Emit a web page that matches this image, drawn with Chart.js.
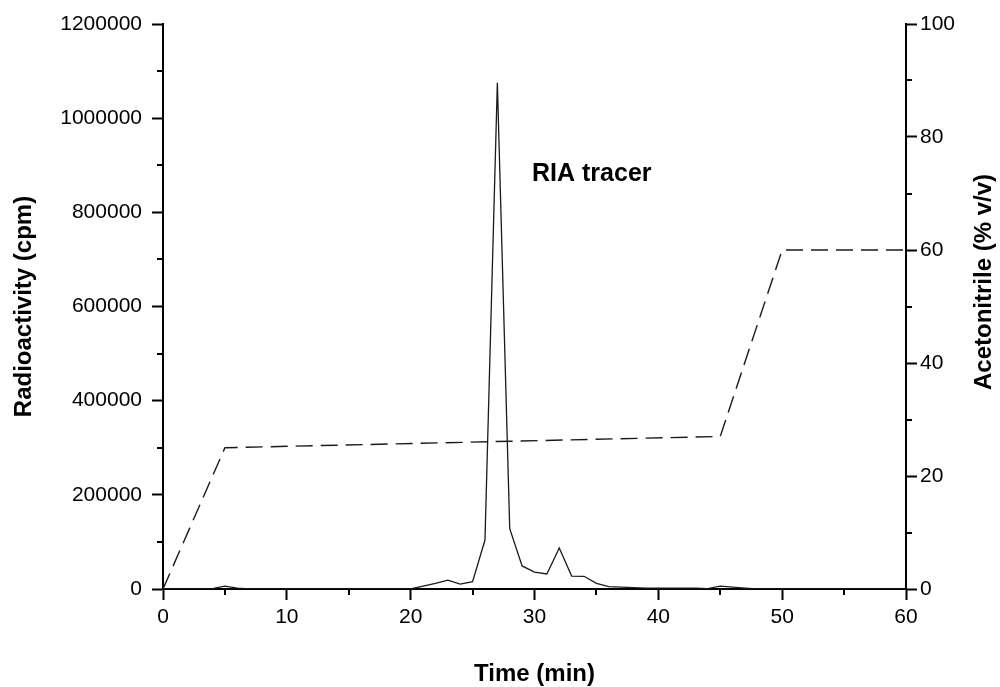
<!DOCTYPE html>
<html>
<head>
<meta charset="utf-8">
<script src="https://cdn.jsdelivr.net/npm/chart.js@4.4.1/dist/chart.umd.min.js"></script>
<style>
  html, body { margin: 0; padding: 0; background: #fff; }
  canvas { display: block; }
</style>
</head>
<body>
<canvas id="chart" width="1000" height="687"></canvas>
<script>
// radioactivity trace, one reading per minute
const radTime = [
  0, 1, 2, 3, 4, 5, 6, 7, 8, 9,
  10, 11, 12, 13, 14, 15, 16, 17, 18, 19,
  20, 21, 22, 23, 24, 25, 26, 27, 28, 29,
  30, 31, 32, 33, 34, 35, 36, 37, 38, 39,
  40, 41, 42, 43, 44, 45, 46, 47, 48, 49,
  50, 51, 52, 53, 54, 55, 56, 57, 58, 59, 60
];
const radCpm = [
  0, 0, 0, 0, 1000, 6000, 2000, 0, 0, 0,
  0, 0, 0, 0, 0, 0, 0, 0, 0, 0,
  0, 6000, 12000, 19000, 10500, 15500, 104000, 1075000, 128000, 49000,
  36000, 32000, 87000, 27500, 27000, 12000, 5000, 4000, 3000, 2000,
  2000, 2000, 2000, 2000, 1000, 6000, 4000, 2000, 0, 0,
  0, 0, 0, 0, 0, 0, 0, 0, 0, 0, 0
];

// acetonitrile gradient
const acnTime = [0, 5, 45, 50, 60];
const acnPercent = [0, 25, 27, 60, 60];

// axis ticks
const xTicks = [0, 10, 20, 30, 40, 50, 60];
const xMinorTicks = [5, 15, 25, 35, 45, 55];
const leftTicks = [0, 200000, 400000, 600000, 800000, 1000000, 1200000];
const leftMinorTicks = [100000, 300000, 500000, 700000, 900000, 1100000];
const rightTicks = [0, 20, 40, 60, 80, 100];
const rightMinorTicks = [10, 30, 50, 70, 90];

const peakLabel = "RIA tracer";
const FONT = "Arial, 'Liberation Sans', sans-serif";

const toPoints = (xs, ys) => xs.map((x, i) => ({ x: x, y: ys[i] }));

const extras = {
  id: "extras",
  afterDraw(chart) {
    const { ctx, chartArea, scales } = chart;
    ctx.save();
    ctx.strokeStyle = "#000";
    ctx.lineWidth = 2;
    ctx.beginPath();
    xMinorTicks.forEach((v) => {
      const px = Math.round(scales.x.getPixelForValue(v));
      ctx.moveTo(px, chartArea.bottom);
      ctx.lineTo(px, chartArea.bottom + 6);
    });
    leftMinorTicks.forEach((v) => {
      const py = Math.round(scales.y.getPixelForValue(v));
      ctx.moveTo(chartArea.left, py);
      ctx.lineTo(chartArea.left - 6, py);
    });
    rightMinorTicks.forEach((v) => {
      const py = Math.round(scales.y2.getPixelForValue(v));
      ctx.moveTo(chartArea.right, py);
      ctx.lineTo(chartArea.right + 6, py);
    });
    ctx.stroke();

    ctx.fillStyle = "#000";
    ctx.font = "bold 25px " + FONT;
    ctx.textAlign = "left";
    ctx.textBaseline = "middle";
    ctx.fillText(peakLabel, scales.x.getPixelForValue(29.8), scales.y.getPixelForValue(882000));

    // right axis title reads bottom to top
    ctx.font = "bold 24px " + FONT;
    ctx.textAlign = "center";
    ctx.translate(984, 282);
    ctx.rotate(-Math.PI / 2);
    ctx.fillText("Acetonitrile (% v/v)", 0, 0);
    ctx.restore();
  },
};

const axisGrid = {
  drawOnChartArea: false,
  drawTicks: true,
  tickLength: 11,
  tickWidth: 2,
  tickColor: "#000",
  color: "#000",
};
const tickFont = { family: FONT, size: 21 };

new Chart(document.getElementById("chart"), {
  type: "line",
  data: {
    datasets: [
      {
        label: "Radioactivity",
        data: toPoints(radTime, radCpm),
        yAxisID: "y",
        borderColor: "#1a1a1a",
        borderWidth: 1.3,
        pointRadius: 0,
        tension: 0,
      },
      {
        label: "Acetonitrile",
        data: toPoints(acnTime, acnPercent),
        yAxisID: "y2",
        borderColor: "#1a1a1a",
        borderWidth: 1.4,
        borderDash: [17, 8],
        pointRadius: 0,
        tension: 0,
      },
    ],
  },
  options: {
    responsive: false,
    animation: false,
    devicePixelRatio: 1,
    layout: { padding: { top: 24, left: 0, right: 0, bottom: 0 } },
    plugins: { legend: { display: false }, tooltip: { enabled: false } },
    scales: {
      x: {
        type: "linear",
        min: 0,
        max: 60,
        afterBuildTicks: (s) => { s.ticks = xTicks.map((v) => ({ value: v })); },
        afterFit: (s) => { s.height = 98; },
        grid: axisGrid,
        border: { color: "#000", width: 2 },
        ticks: { color: "#000", font: tickFont, padding: 5, maxRotation: 0 },
        title: {
          display: true,
          text: "Time (min)",
          color: "#000",
          font: { family: FONT, size: 24, weight: "bold" },
          padding: { top: 0, bottom: -2 },
        },
      },
      y: {
        type: "linear",
        position: "left",
        min: 0,
        max: 1200000,
        afterBuildTicks: (s) => { s.ticks = leftTicks.map((v) => ({ value: v })); },
        afterFit: (s) => { s.width = 163; },
        grid: axisGrid,
        border: { color: "#000", width: 2 },
        ticks: { color: "#000", font: tickFont, padding: 10, callback: (v) => String(v) },
        title: {
          display: true,
          text: "Radioactivity (cpm)",
          color: "#000",
          font: { family: FONT, size: 24, weight: "bold" },
          padding: { top: 10, bottom: 0 },
        },
      },
      y2: {
        type: "linear",
        position: "right",
        min: 0,
        max: 100,
        afterBuildTicks: (s) => { s.ticks = rightTicks.map((v) => ({ value: v })); },
        afterFit: (s) => { s.width = 94; },
        grid: axisGrid,
        border: { color: "#000", width: 2 },
        ticks: { color: "#000", font: tickFont, padding: 3, callback: (v) => String(v) },
      },
    },
  },
  plugins: [extras],
});
</script>
</body>
</html>
